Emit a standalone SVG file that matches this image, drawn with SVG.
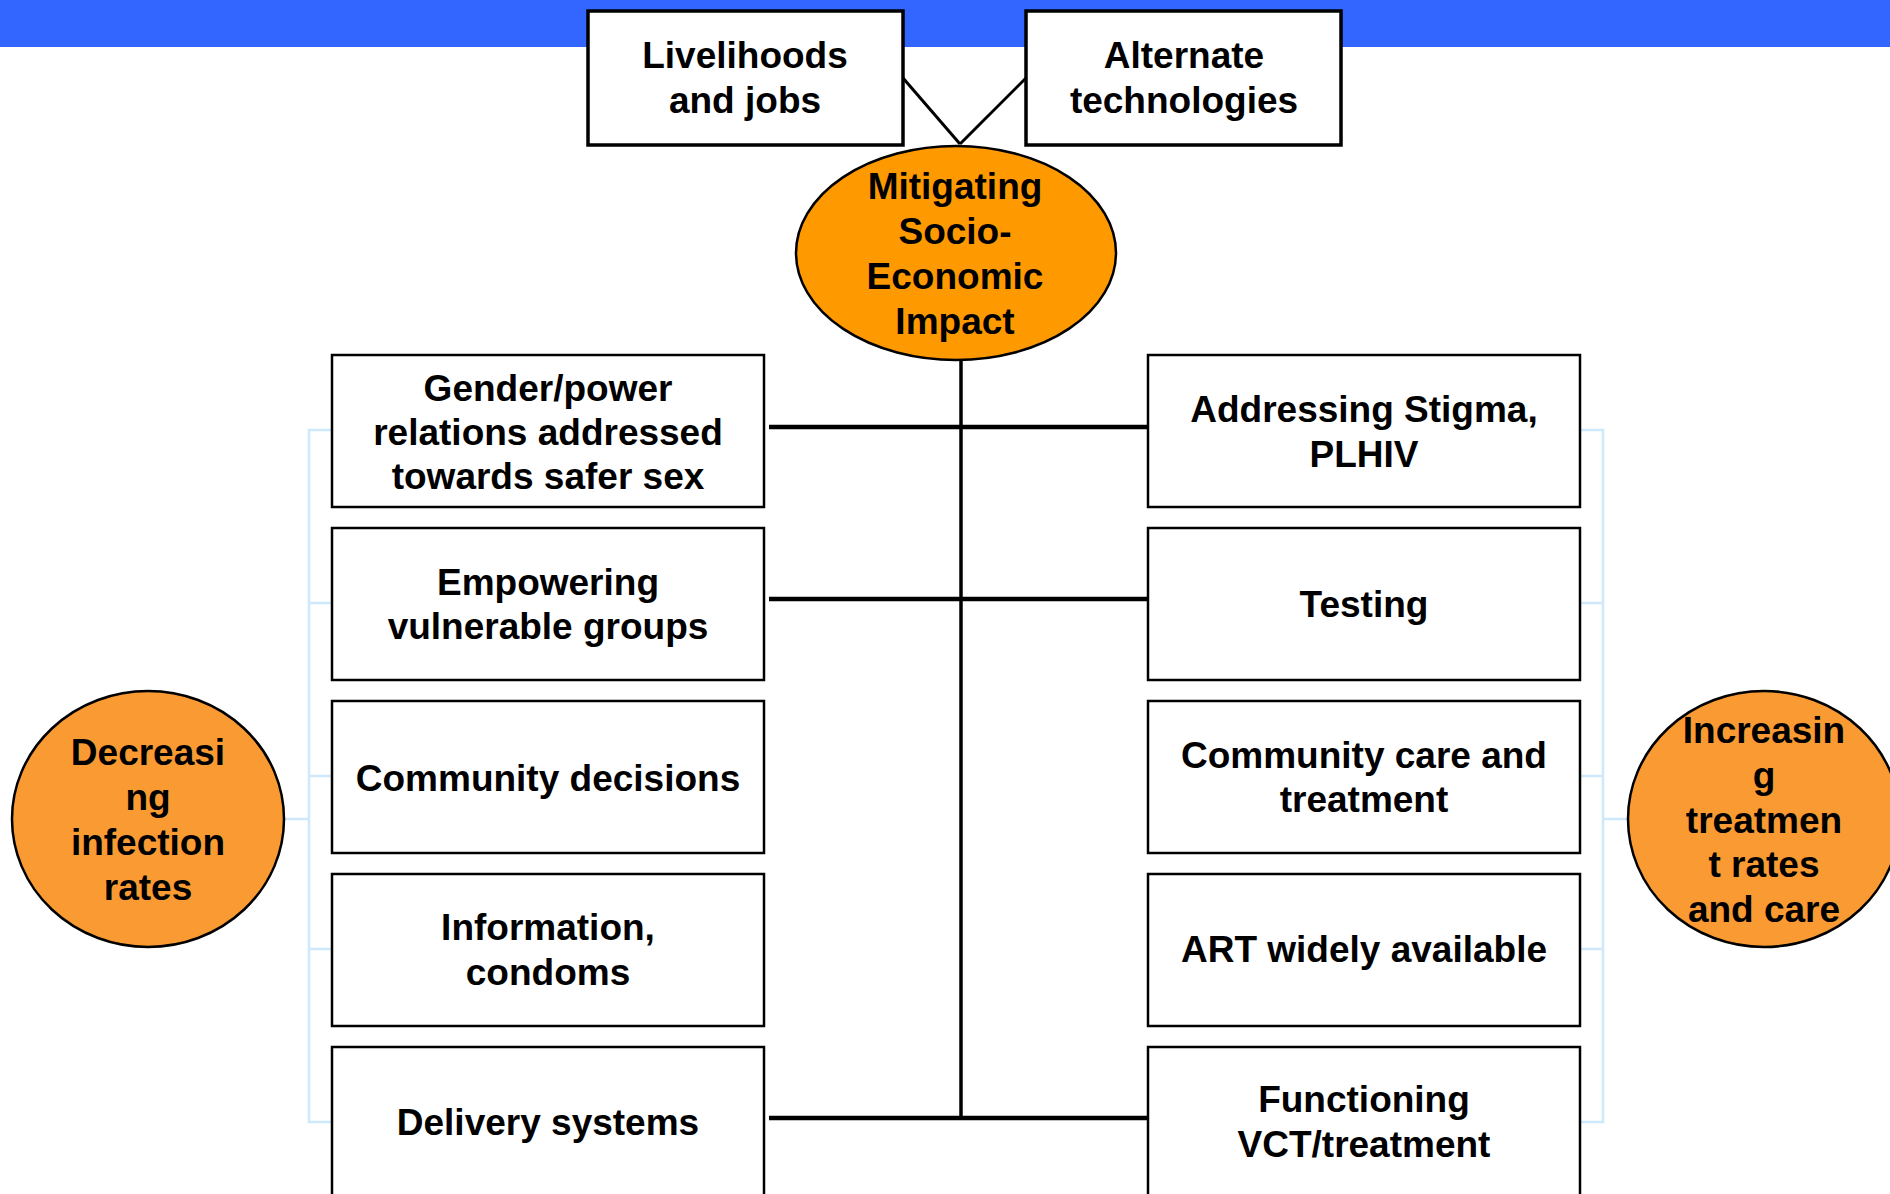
<svg xmlns="http://www.w3.org/2000/svg" width="1890" height="1194" viewBox="0 0 1890 1194">
<style>
.t{font-family:"Liberation Sans",Arial,sans-serif;font-weight:bold;font-size:37px;fill:#000;text-anchor:middle}
.box{fill:#fff;stroke:#000;stroke-width:2.5}
.topbox{fill:#fff;stroke:#000;stroke-width:3.5}
.ell{stroke:#000;stroke-width:2.5}
.br{fill:none;stroke:#cde9fb;stroke-width:2.5}
.con{fill:none;stroke:#000}
</style>
<rect x="0" y="0" width="1890" height="47" fill="#3366ff"/>
<g id="connectors">
<line class="con" x1="903" y1="78" x2="960" y2="144" stroke-width="3"/>
<line class="con" x1="1026" y1="78" x2="960" y2="144" stroke-width="3"/>
<line class="con" x1="961" y1="358" x2="961" y2="1118" stroke-width="3.5"/>
<line class="con" x1="769" y1="427" x2="1152" y2="427" stroke-width="4.5"/>
<line class="con" x1="769" y1="599" x2="1152" y2="599" stroke-width="4.5"/>
<line class="con" x1="769" y1="1118" x2="1152" y2="1118" stroke-width="4.5"/>
<polyline class="br" points="331,430 309,430 309,1122 331,1122"/>
<line class="br" x1="309" y1="603" x2="331" y2="603"/>
<line class="br" x1="309" y1="776" x2="331" y2="776"/>
<line class="br" x1="309" y1="949" x2="331" y2="949"/>
<line class="br" x1="284" y1="819" x2="309" y2="819"/>
<polyline class="br" points="1581,430 1603,430 1603,1122 1581,1122"/>
<line class="br" x1="1581" y1="603" x2="1603" y2="603"/>
<line class="br" x1="1581" y1="776" x2="1603" y2="776"/>
<line class="br" x1="1581" y1="949" x2="1603" y2="949"/>
<line class="br" x1="1603" y1="819" x2="1628" y2="819"/>
</g>
<g id="livelihoods">
<rect class="topbox" x="588" y="11" width="315" height="134"/>
<text class="t" x="745" y="68">Livelihoods</text>
<text class="t" x="745" y="113">and jobs</text>
</g>
<g id="alternate">
<rect class="topbox" x="1026" y="11" width="315" height="134"/>
<text class="t" x="1184" y="68">Alternate</text>
<text class="t" x="1184" y="113">technologies</text>
</g>
<g id="mitigating">
<ellipse class="ell" cx="956" cy="253" rx="160" ry="107" fill="#ff9900"/>
<text class="t" x="955" y="199">Mitigating</text>
<text class="t" x="955" y="244">Socio-</text>
<text class="t" x="955" y="289">Economic</text>
<text class="t" x="955" y="334">Impact</text>
</g>
<g id="gender">
<rect class="box" x="332" y="355" width="432" height="152"/>
<text class="t" x="548" y="401">Gender/power</text>
<text class="t" x="548" y="445">relations addressed</text>
<text class="t" x="548" y="489">towards safer sex</text>
</g>
<g id="empowering">
<rect class="box" x="332" y="528" width="432" height="152"/>
<text class="t" x="548" y="595">Empowering</text>
<text class="t" x="548" y="639">vulnerable groups</text>
</g>
<g id="community-decisions">
<rect class="box" x="332" y="701" width="432" height="152"/>
<text class="t" x="548" y="791">Community decisions</text>
</g>
<g id="information">
<rect class="box" x="332" y="874" width="432" height="152"/>
<text class="t" x="548" y="940">Information,</text>
<text class="t" x="548" y="985">condoms</text>
</g>
<g id="delivery">
<rect class="box" x="332" y="1047" width="432" height="200"/>
<text class="t" x="548" y="1135">Delivery systems</text>
</g>
<g id="stigma">
<rect class="box" x="1148" y="355" width="432" height="152"/>
<text class="t" x="1364" y="422">Addressing Stigma,</text>
<text class="t" x="1364" y="467">PLHIV</text>
</g>
<g id="testing">
<rect class="box" x="1148" y="528" width="432" height="152"/>
<text class="t" x="1364" y="617">Testing</text>
</g>
<g id="community-care">
<rect class="box" x="1148" y="701" width="432" height="152"/>
<text class="t" x="1364" y="768">Community care and</text>
<text class="t" x="1364" y="812">treatment</text>
</g>
<g id="art">
<rect class="box" x="1148" y="874" width="432" height="152"/>
<text class="t" x="1364" y="962">ART widely available</text>
</g>
<g id="vct">
<rect class="box" x="1148" y="1047" width="432" height="200"/>
<text class="t" x="1364" y="1112">Functioning</text>
<text class="t" x="1364" y="1157">VCT/treatment</text>
</g>
<g id="decreasing">
<ellipse class="ell" cx="148" cy="819" rx="136" ry="128" fill="#f99a33"/>
<text class="t" x="148" y="765">Decreasi</text>
<text class="t" x="148" y="810">ng</text>
<text class="t" x="148" y="855">infection</text>
<text class="t" x="148" y="900">rates</text>
</g>
<g id="increasing">
<ellipse class="ell" cx="1764" cy="819" rx="136" ry="128" fill="#f99a33"/>
<text class="t" x="1764" y="743">Increasin</text>
<text class="t" x="1764" y="788">g</text>
<text class="t" x="1764" y="833">treatmen</text>
<text class="t" x="1764" y="877">t rates</text>
<text class="t" x="1764" y="922">and care</text>
</g>
</svg>
